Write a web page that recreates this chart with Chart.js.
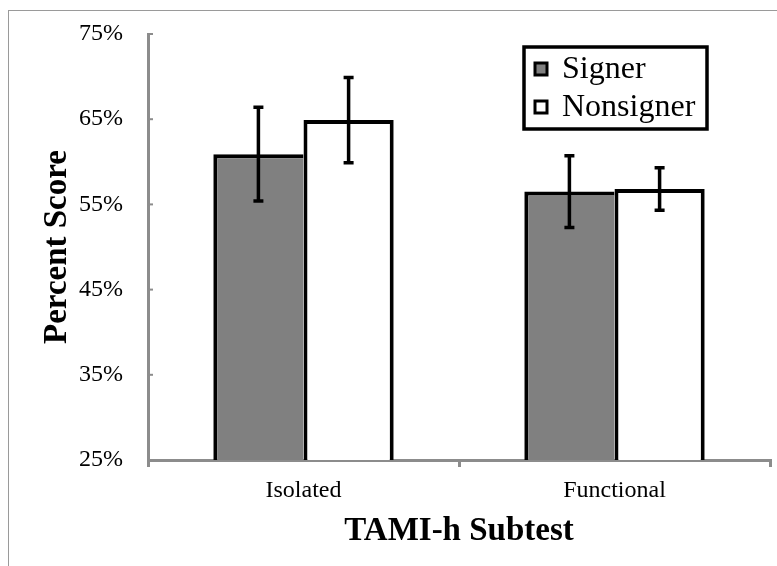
<!DOCTYPE html>
<html>
<head>
<meta charset="utf-8">
<script src="https://cdn.jsdelivr.net/npm/chart.js@4.4.0/dist/chart.umd.min.js"></script>
<style>
  html, body { margin: 0; padding: 0; background: #fff; overflow: hidden; }
  #frame { position: absolute; left: 8px; top: 10px; width: 800px; height: 600px; border: 1px solid #9a9a9a; }
  #wrap { position: absolute; left: 0; top: 0; width: 777px; height: 566px; }
</style>
</head>
<body>
<div id="frame"></div>
<div id="wrap"><canvas id="chart"></canvas></div>
<script>
// data
const categories = ['Isolated', 'Functional'];
const signerScores = [60.9, 56.5];
const signerErrors = [5.5, 4.2];
const nonsignerScores = [64.9, 56.8];
const nonsignerErrors = [5.0, 2.5];
const yTicks = [25, 35, 45, 55, 65, 75];

const serif = "'Liberation Serif', 'Times New Roman', serif";
const plotTop = 34;

// error bars, drawn from the y scale
const errorBars = {
    id: 'errorBars',
    afterDatasetsDraw(chart) {
        const ctx = chart.ctx;
        const y = chart.scales.y;
        ctx.save();
        ctx.strokeStyle = '#000';
        ctx.lineWidth = 3.5;
        chart.data.datasets.forEach((ds, i) => {
            const meta = chart.getDatasetMeta(i);
            meta.data.forEach((bar, j) => {
                const v = ds.data[j], e = ds.errors[j];
                const top = y.getPixelForValue(v + e);
                const bot = y.getPixelForValue(v - e);
                ctx.beginPath();
                ctx.moveTo(bar.x, top);
                ctx.lineTo(bar.x, bot);
                ctx.moveTo(bar.x - 5, top);
                ctx.lineTo(bar.x + 5, top);
                ctx.moveTo(bar.x - 5, bot);
                ctx.lineTo(bar.x + 5, bot);
                ctx.stroke();
            });
        });
        // small inward ticks on the y axis
        ctx.strokeStyle = '#8c8c8c';
        ctx.lineWidth = 2;
        y.ticks.forEach((t, k) => {
            const py = y.getPixelForTick(k);
            ctx.beginPath();
            ctx.moveTo(y.right, py);
            ctx.lineTo(y.right + 5, py);
            ctx.stroke();
        });
        ctx.restore();
    }
};

// boxed legend inside the plot, top right
const boxLegend = {
    id: 'boxLegend',
    afterDraw(chart) {
        const ctx = chart.ctx;
        const area = chart.chartArea;
        const left = area.right - 246, top = area.top + 13;
        const w = 183, h = 82;
        ctx.save();
        ctx.fillStyle = '#fff';
        ctx.fillRect(left, top, w, h);
        ctx.strokeStyle = '#000';
        ctx.lineWidth = 3.5;
        ctx.strokeRect(left, top, w, h);
        ctx.font = '32px ' + serif;
        ctx.textBaseline = 'middle';
        chart.data.datasets.forEach((ds, i) => {
            const cy = top + 22 + i * 38;
            ctx.fillStyle = ds.backgroundColor;
            ctx.fillRect(left + 11, cy - 6, 12, 12);
            ctx.lineWidth = 3;
            ctx.strokeRect(left + 11, cy - 6, 12, 12);
            ctx.fillStyle = '#000';
            ctx.fillText(ds.label, left + 38, cy + 1);
        });
        ctx.restore();
    }
};

new Chart(document.getElementById('chart'), {
    type: 'bar',
    data: {
        labels: categories,
        datasets: [
            {
                label: 'Signer',
                data: signerScores,
                errors: signerErrors,
                backgroundColor: '#808080',
                borderColor: '#000',
                borderWidth: { top: 4, left: 4, right: 0, bottom: 0 },
                borderSkipped: false
            },
            {
                label: 'Nonsigner',
                data: nonsignerScores,
                errors: nonsignerErrors,
                backgroundColor: '#ffffff',
                borderColor: '#000',
                borderWidth: { top: 4, left: 4, right: 4, bottom: 0 },
                borderSkipped: false
            }
        ]
    },
    options: {
        responsive: true,
        maintainAspectRatio: false,
        animation: false,
        layout: { padding: { left: 0, right: 7, top: plotTop, bottom: 0 } },
        datasets: { bar: { categoryPercentage: 0.58, barPercentage: 1.0 } },
        plugins: {
            legend: { display: false },
            tooltip: { enabled: false }
        },
        scales: {
            x: {
                afterFit: function(scale) { scale.height = 106; },
                grid: {
                    drawOnChartArea: false,
                    drawTicks: true,
                    tickLength: 7,
                    color: '#8c8c8c',
                    lineWidth: 3
                },
                border: { color: '#8c8c8c', width: 3 },
                ticks: {
                    padding: 9,
                    color: '#000',
                    font: { family: serif, size: 24 }
                },
                title: {
                    display: true,
                    text: 'TAMI-h Subtest',
                    color: '#000',
                    font: { family: serif, size: 33, weight: 'bold' },
                    padding: { top: 0, bottom: 15 }
                }
            },
            y: {
                min: yTicks[0],
                max: yTicks[yTicks.length - 1],
                afterFit: function(scale) {
                    scale.width = 148;
                    scale.paddingTop = 0;
                },
                afterBuildTicks: function(scale) {
                    scale.ticks = yTicks.map(v => ({ value: v }));
                },
                grid: { display: false, drawTicks: false },
                border: { color: '#8c8c8c', width: 3 },
                ticks: {
                    padding: 25,
                    color: '#000',
                    font: { family: serif, size: 24 },
                    callback: function(value) { return value + '%'; }
                },
                title: {
                    display: true,
                    text: 'Percent Score',
                    color: '#000',
                    font: { family: serif, size: 33, weight: 'bold' },
                    padding: { top: 38, bottom: 0 }
                }
            }
        }
    },
    plugins: [errorBars, boxLegend]
});
</script>
</body>
</html>
